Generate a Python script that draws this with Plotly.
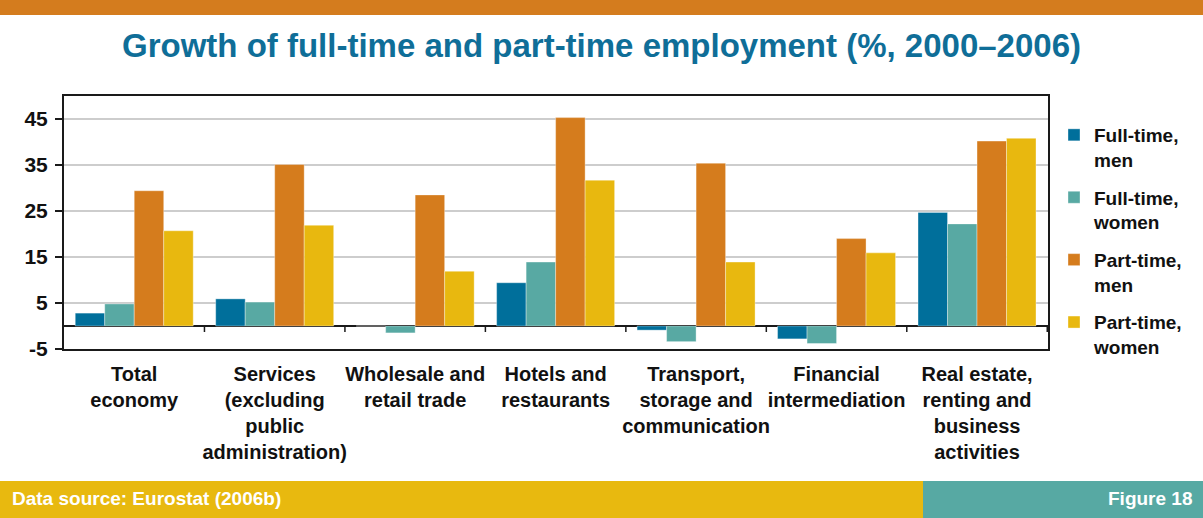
import plotly.graph_objects as go

# Sector categories (line breaks as printed under the axis)
categories = [
    "Total<br>economy",
    "Services<br>(excluding<br>public<br>administration)",
    "Wholesale and<br>retail trade",
    "Hotels and<br>restaurants",
    "Transport,<br>storage and<br>communication",
    "Financial<br>intermediation",
    "Real estate,<br>renting and<br>business<br>activities",
]

# Growth of employment, %, 2000-2006
full_time_men = [2.8, 5.9, 0.0, 9.4, -0.9, -2.8, 24.7]
full_time_women = [4.8, 5.2, -1.5, 13.9, -3.4, -3.8, 22.2]
part_time_men = [29.4, 35.1, 28.5, 45.3, 35.4, 19.0, 40.2]
part_time_women = [20.7, 21.9, 11.9, 31.7, 13.9, 15.9, 40.8]

series_names = ["Full-time,<br>men", "Full-time,<br>women", "Part-time,<br>men", "Part-time,<br>women"]
y_ticks = [-5, 5, 15, 25, 35, 45]
y_tick_labels = ["-5", "5", "15", "25", "35", "45"]

colors = ["#006f9b", "#58a9a3", "#d57c1d", "#e8b80f"]
FONT = "Liberation Sans, Arial, sans-serif"

W, H = 1203, 518
ML, MR, MT, MB = 64, 155, 96, 169
PW, PH = W - ML - MR, H - MT - MB


def px_x(p):
    return (p - ML) / PW


def px_y(p):
    return (H - MB - p) / PH


fig = go.Figure()
for i, (name, vals) in enumerate(zip(series_names,
                                     [full_time_men, full_time_women, part_time_men, part_time_women])):
    fig.add_trace(go.Bar(
        x=categories, y=vals, name=name,
        marker=dict(color=colors[i], line=dict(color="rgba(255,255,255,0.35)", width=1)),
        legendgroup=f"g{i}",
    ))

shapes = []
# small tick marks on the zero line between sectors
for i in range(len(categories)):
    shapes.append(dict(type="line", xref="x", yref="y", x0=i + 0.5, x1=i + 0.5,
                       ysizemode="pixel", yanchor=0, y0=0, y1=-6,
                       line=dict(color="#1a1a1a", width=1.5)))
# orange header band
shapes.append(dict(type="rect", xref="paper", yref="paper", layer="below",
                   x0=px_x(0), x1=px_x(W), y0=px_y(15), y1=px_y(0),
                   fillcolor="#d47c1e", line=dict(width=0)))
# footer bands
shapes.append(dict(type="rect", xref="paper", yref="paper", layer="below",
                   x0=px_x(0), x1=px_x(923), y0=px_y(H), y1=px_y(481),
                   fillcolor="#e8b90f", line=dict(width=0)))
shapes.append(dict(type="rect", xref="paper", yref="paper", layer="below",
                   x0=px_x(923), x1=px_x(W), y0=px_y(H), y1=px_y(481),
                   fillcolor="#57a9a3", line=dict(width=0)))

annotations = [
    dict(text="Data source: Eurostat (2006b)", xref="paper", yref="paper",
         x=px_x(10), y=px_y(498), xanchor="left", yanchor="middle", showarrow=False,
         font=dict(family=FONT, size=19, color="white", weight="bold")),
    dict(text="Figure 18", xref="paper", yref="paper",
         x=px_x(1194), y=px_y(498), xanchor="right", yanchor="middle", showarrow=False,
         font=dict(family=FONT, size=19, color="white", weight="bold")),
]

fig.update_layout(
    width=W, height=H,
    margin=dict(l=ML, r=MR, t=MT, b=MB, pad=0),
    paper_bgcolor="white", plot_bgcolor="white",
    barmode="group", bargap=0.16, bargroupgap=0,
    title=dict(text="Growth of full-time and part-time employment (%, 2000\u20132006)",
               x=0.5, xref="container", xanchor="center",
               y=1 - 45 / H, yref="container", yanchor="middle",
               font=dict(family=FONT, size=33, color="#0f6e98", weight="bold")),
    legend=dict(x=px_x(1054), y=px_y(116), xanchor="left", yanchor="top",
                font=dict(family=FONT, size=19, color="#111111", weight="bold"),
                valign="top", tracegroupgap=10, bgcolor="rgba(0,0,0,0)"),
    xaxis=dict(type="category", showline=True, mirror=True, linecolor="#1a1a1a", linewidth=2,
               ticks="", tickangle=0, ticklabelstandoff=6,
               tickfont=dict(family=FONT, size=20, color="#111111", weight="bold")),
    yaxis=dict(range=[-5, 50], tickvals=y_ticks, ticktext=y_tick_labels, showline=True, mirror=True,
               linecolor="#1a1a1a", linewidth=2, ticks="outside", ticklen=7, tickcolor="#1a1a1a",
               tickwidth=1.5, ticklabelstandoff=3,
               showgrid=True, gridcolor="#cdcdcd", gridwidth=2,
               zeroline=True, zerolinecolor="#1a1a1a", zerolinewidth=1.5,
               tickfont=dict(family=FONT, size=21, color="#111111", weight="bold")),
    shapes=shapes,
    annotations=annotations,
)

fig.write_html("out.html")
